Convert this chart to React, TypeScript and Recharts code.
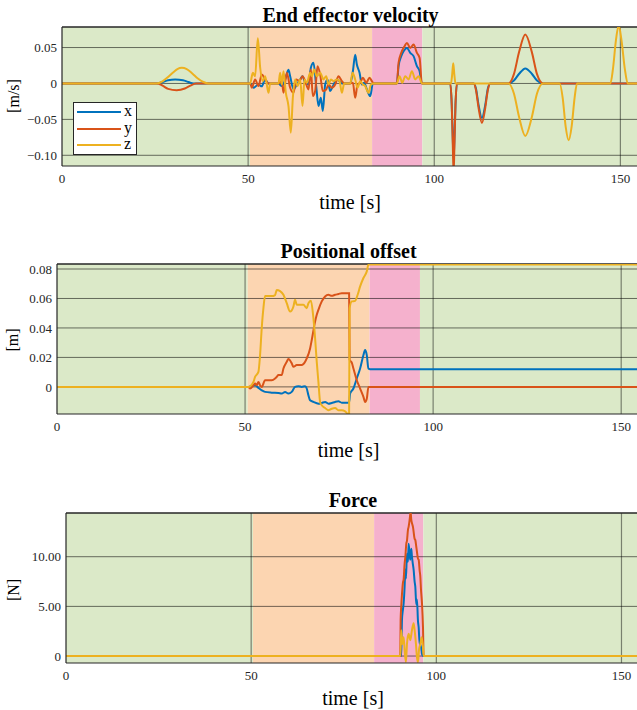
import React from 'react';
import { LineChart, Line, XAxis, YAxis, ReferenceArea, ReferenceLine, Legend } from 'recharts';

const FONT = '"Liberation Serif", "DejaVu Serif", serif';
const BLUE = '#0072BD';
const RED = '#D95319';
const YELLOW = '#EDB120';
const GREEN_BG = '#dbe9c8';
const ORANGE_BG = '#fcd5b1';
const PINK_BG = '#f5b1cd';
const FRAME = '#262626';

const seriesNames = ['x', 'y', 'z'];
const seriesColors = [BLUE, RED, YELLOW];
const phaseColors = [GREEN_BG, ORANGE_BG, PINK_BG, GREEN_BG];

const timeTicks = [0, 50, 100, 150];
const timeDomain = [0, 155];

// ---------- End effector velocity ----------
const velTicks = [-0.1, -0.05, 0, 0.05];
const velDomain = [-0.1149, 0.0786];
const velPhases = [0, 50.5, 83.3, 96.8, 155];

const velX: [number, number][] = [
  [0, 0], [25.5, 0], [27, 0.002], [28.5, 0.0045], [30.4, 0.0055], [32.5, 0.0045], [34, 0.002], [35.3, 0],
  [50.54, 0], [51.43, -0.006], [52.78, -0.0014], [53.67, -0.004], [54.57, 0.0056], [55.47, 0], [58.15, 0],
  [59.05, -0.0037], [59.95, 0.0056], [60.84, 0.019], [61.29, 0.01], [62.19, -0.0083], [63.08, -0.0014],
  [63.98, 0.0056], [64.61, 0.01], [65.32, 0.001], [66.22, -0.0014], [66.85, 0.0218], [67.56, 0.0287],
  [68.28, -0.0037], [68.91, -0.0315], [69.53, -0.0199], [70.07, -0.0384], [70.7, -0.0014], [71.33, 0.0056],
  [72.04, -0.0106], [72.76, -0.0037], [73.84, 0.0056], [74.55, 0.0032], [75.18, 0], [77.42, 0],
  [78.14, 0.017], [78.76, 0.04], [79.21, 0.0264], [79.93, 0.015], [80.56, -0.0014], [81.18, 0.001],
  [81.9, -0.0083], [82.8, -0.0176], [83.51, 0], [89.96, 0], [90.41, 0.0241], [91.13, 0.038], [91.76, 0.0449],
  [92.65, 0.0495], [93.55, 0.0426], [94.44, 0.038], [95.34, 0.0241], [96.06, 0.0171], [96.68, 0],
  [104.3, 0], [104.7, -0.03], [105.0, -0.08], [105.2, -0.105], [105.4, -0.08], [105.7, -0.03], [106.09, 0],
  [110.57, 0], [111.2, -0.007], [111.9, -0.03], [112.81, -0.048], [113.7, -0.03], [114.4, -0.007], [115.05, 0],
  [119.98, 0], [121.4, 0.004], [122.8, 0.0135], [124.46, 0.021], [126.2, 0.0135], [127.6, 0.004], [129.21, 0],
  [155, 0],
];
const velY: [number, number][] = [
  [0, 0], [25.5, 0], [27, -0.003], [28.5, -0.0075], [30.8, -0.0093], [33, -0.007], [34.5, -0.003], [36, 0],
  [50.54, 0], [50.99, -0.006], [51.88, 0.0056], [52.78, -0.0037], [53.67, 0.0125], [54.57, 0.0056], [55.47, 0],
  [58.15, 0], [59.05, 0.0032], [59.5, -0.013], [60.39, 0.0148], [61.29, -0.006], [62.19, -0.013], [62.9, 0.0056],
  [63.8, 0.0032], [64.61, 0.01], [65.32, 0.0032], [66.22, -0.0083], [66.85, 0.0194], [67.38, -0.0176],
  [68.01, -0.0106], [68.64, 0.0241], [69.35, 0.0125], [70.07, -0.0106], [70.97, -0.0083], [71.6, -0.0014],
  [72.49, -0.006], [73.39, -0.0014], [74.28, 0.01], [75.18, 0.0032], [75.81, 0], [77.42, 0], [78.14, 0.0009],
  [78.76, -0.0199], [79.39, -0.0014], [80.11, 0.001], [80.82, 0.0079], [81.72, 0.001], [82.62, 0.0079],
  [83.24, 0.0032], [83.69, 0], [89.96, 0], [90.41, 0.0287], [91.13, 0.0426], [92.03, 0.0519], [92.65, 0.0565],
  [93.55, 0.0495], [94.44, 0.0542], [95.34, 0.0426], [96.06, 0.0356], [96.68, 0],
  [104.3, 0], [104.7, -0.03], [105.0, -0.09], [105.2, -0.125], [105.4, -0.09], [105.7, -0.03], [106.09, 0],
  [110.57, 0], [111.2, -0.009], [111.9, -0.034], [112.81, -0.055], [113.7, -0.034], [114.4, -0.009], [115.05, 0],
  [119.98, 0], [121.4, 0.013], [122.8, 0.044], [124.46, 0.068], [126.2, 0.044], [127.6, 0.013], [129.21, 0],
  [155, 0],
];
const velZ: [number, number][] = [
  [0, 0], [25.4, 0], [27, 0.003], [28.5, 0.009], [30, 0.016], [31, 0.02], [32.2, 0.0217], [33.5, 0.02],
  [35, 0.014], [36.5, 0.007], [38, 0.002], [39.3, 0],
  [50.54, 0], [51.26, 0.0148], [51.88, 0.01], [52.6, 0.063], [53.23, 0.0222], [53.94, 0.0032], [54.57, 0.01],
  [55.47, -0.013], [55.91, 0], [58.15, 0], [58.6, 0.0148], [59.05, -0.0014], [59.5, 0.0171], [60.13, -0.013],
  [60.84, -0.0315], [61.47, -0.0685], [62.01, -0.0199], [62.63, 0.0056], [63.26, -0.0037], [63.98, 0.0056],
  [64.61, -0.0315], [65.14, 0.0056], [65.77, 0.001], [66.67, 0.0148], [67.11, 0.01], [67.74, 0.0194],
  [68.46, 0.01], [69.35, 0.0148], [70.25, 0.0056], [70.97, 0.01], [71.6, -0.0014], [72.22, 0.0056],
  [72.94, 0.0032], [73.84, 0.0056], [74.55, 0.0032], [75.18, -0.013], [75.81, 0], [77.42, 0], [78.05, 0.0148],
  [78.76, 0.0056], [79.39, -0.006], [80.11, 0.0032], [80.82, -0.0014], [81.45, -0.0037], [82.35, -0.013],
  [82.97, -0.0014], [83.69, 0], [89.96, 0], [90.68, 0.0102], [91.4, 0.0009], [92.2, 0.0102], [93.1, 0.0056],
  [94.0, 0.0171], [94.89, 0.0056], [95.79, 0.0102], [96.68, 0],
  [104.5, 0], [104.8, 0.012], [105.1, 0.028], [105.4, 0.012], [105.7, 0],
  [119.98, 0], [121.4, -0.014], [122.8, -0.047], [124.46, -0.073], [126.2, -0.047], [127.6, -0.014], [129.21, 0],
  [133.69, 0], [134.5, -0.02], [135.3, -0.06], [136.11, -0.079], [136.9, -0.06], [137.7, -0.02], [138.35, 0],
  [147.31, 0], [148.0, 0.02], [148.8, 0.06], [149.55, 0.081], [150.3, 0.06], [151.2, 0.02], [151.97, 0],
  [155, 0],
];

// ---------- Positional offset ----------
const posTicks = [0, 0.02, 0.04, 0.06, 0.08];
const posDomain = [-0.0184, 0.0834];
const posPhases = [0, 50.7, 83.1, 96.5, 155];

const posX: [number, number][] = [
  [0, 0], [50.89, 0], [51.77, 0.0007], [52.66, 0.0011], [53.55, -0.0007], [54.43, -0.0023], [55.32, -0.0034],
  [57.09, -0.0039], [58.87, -0.0041], [59.75, -0.0045], [60.64, -0.0034], [61.52, -0.0045], [62.41, -0.0034],
  [63.3, 0], [64.18, 0.0005], [65.07, 0], [65.96, 0.0005], [66.4, -0.0011], [66.84, -0.0057], [67.29, -0.0091],
  [68.17, -0.0102], [69.5, -0.0114], [70.39, -0.0109], [71.28, -0.0102], [72.16, -0.0114], [73.05, -0.0109],
  [73.94, -0.0102], [74.82, -0.0098], [75.71, -0.0107], [76.6, -0.0107], [77.66, -0.0107], [77.93, -0.0045],
  [78.81, -0.0011], [79.7, 0.0057], [80.59, 0.0125], [81.47, 0.0216], [81.91, 0.025], [82.36, 0.0216],
  [82.8, 0.0125], [83.24, 0.012], [155, 0.012],
];
const posY: [number, number][] = [
  [0, 0], [50.89, 0], [51.33, -0.0011], [52.22, 0.0011], [52.66, 0.0023], [53.1, 0.0011], [53.55, 0.0034],
  [53.99, 0.0011], [54.43, 0], [55.32, 0.0045], [57.09, 0.0045], [57.98, 0.0057], [58.42, 0.0068],
  [58.87, 0.008], [59.75, 0.008], [60.2, 0.0125], [61.08, 0.017], [61.52, 0.019], [62.41, 0.016],
  [62.85, 0.0136], [63.74, 0.0148], [65.07, 0.0148], [65.96, 0.017], [66.4, 0.0193], [67.29, 0.0261],
  [67.73, 0.0318], [68.62, 0.0443], [69.06, 0.0489], [69.5, 0.0523], [70.39, 0.058], [71.28, 0.0614],
  [72.16, 0.0625], [73.05, 0.0618], [73.94, 0.0625], [74.82, 0.063], [75.71, 0.0636], [76.6, 0.0636],
  [77.66, 0.0636], [77.8, 0.0184], [78.37, 0.0164], [78.81, 0.0125], [79.7, 0.0045], [80.59, -0.0011],
  [81.47, -0.0068], [81.91, -0.0102], [82.36, -0.008], [82.8, 0], [155, 0],
];
const posZ: [number, number][] = [
  [0, 0], [50.89, 0], [52.22, 0.0034], [52.66, 0.0068], [53.55, 0.0102], [53.99, 0.0216], [54.43, 0.0398],
  [54.88, 0.0534], [55.32, 0.0616], [56.21, 0.0616], [57.09, 0.0616], [57.98, 0.0623], [58.42, 0.0657],
  [59.31, 0.065], [60.2, 0.0625], [61.08, 0.0568], [61.97, 0.0511], [62.85, 0.0545], [63.3, 0.0591],
  [63.74, 0.0557], [64.62, 0.0557], [65.51, 0.0557], [66.4, 0.0534], [66.84, 0.0568], [67.51, 0.0584],
  [68.17, 0.0466], [68.62, 0.033], [69.06, 0.017], [69.5, 0.0034], [69.95, -0.0102], [70.39, -0.0125],
  [71.28, -0.0143], [72.16, -0.0159], [73.05, -0.0148], [73.94, -0.0143], [74.82, -0.0159], [75.71, -0.0159],
  [76.6, -0.0166], [77.3, -0.0182], [77.66, -0.0182], [77.8, 0.0534], [78.37, 0.058], [79.26, 0.0584],
  [79.93, 0.0625], [80.59, 0.0682], [81.47, 0.0739], [82.36, 0.0784], [82.8, 0.083], [155, 0.083],
];

// ---------- Force ----------
const forceTicks = [0, 5, 10];
const forceDomain = [-0.7, 14.4];
const forcePhases = [0, 50.5, 83.2, 96.5, 155];

const forceX: [number, number][] = [
  [0, 0], [90.54, 0], [90.72, 3.6], [90.99, 4.7], [91.17, 5.3], [91.44, 7.0], [91.62, 8.7], [91.8, 7.8],
  [92.07, 10.3], [92.34, 9.5], [92.52, 11.3], [92.79, 10.2], [92.97, 9.7], [93.24, 10.8], [93.42, 10.0],
  [93.69, 9.2], [93.87, 8.7], [94.14, 7.5], [94.32, 7.0], [94.59, 5.2], [94.77, 5.7], [95.05, 3.5],
  [95.23, 2.9], [95.5, 1.2], [95.68, 1.2], [96.04, 0.5], [96.13, 0.2], [96.4, 0], [155, 0],
];
const forceY: [number, number][] = [
  [0, 0], [90.27, 0], [90.36, 3.6], [90.54, 5.1], [90.72, 6.2], [90.99, 7.4], [91.17, 7.7], [91.44, 9.3],
  [91.62, 9.9], [91.89, 11.3], [92.07, 11.6], [92.34, 12.7], [92.52, 13.0], [92.79, 13.7], [93.06, 14.5],
  [93.24, 13.7], [93.42, 13.4], [93.69, 13.0], [94.14, 11.8], [94.32, 11.7], [94.59, 11.0], [94.77, 10.5],
  [95.05, 9.8], [95.23, 9.7], [95.5, 8.6], [95.68, 8.0], [95.86, 6.7], [96.13, 5.3], [96.4, 2.9], [96.58, 0],
  [155, 0],
];
const forceZ: [number, number][] = [
  [0, 0], [90.27, 0], [90.54, 2.6], [90.81, 1.2], [91.17, 1.9], [91.44, 0.6], [91.8, -0.6], [92.07, 1.2],
  [92.52, 2.25], [92.97, 1.6], [93.42, 2.6], [93.87, 3.3], [94.14, 2.6], [94.5, 1.2], [94.77, -0.1],
  [95.05, -0.6], [95.32, 0.6], [95.68, 1.2], [96.04, 1.9], [96.4, 0.9], [96.58, 0], [155, 0],
];

const toPts = (arr: [number, number][]) => arr.map(([t, v]) => ({ t, v }));

const fmtVel = (v: number) => (Math.abs(v) < 1e-9 ? '0' : (v < 0 ? '\u2212' : '') + Math.abs(v).toFixed(2));
const fmtPos = (v: number) => (Math.abs(v) < 1e-9 ? '0' : v.toFixed(2));
const fmtForce = (v: number) => (Math.abs(v) < 1e-9 ? '0' : v.toFixed(2));

const renderLegend = (props: any) => {
  const payload = props.payload || [];
  return (
    <div
      style={{
        width: 64,
        height: 53,
        background: '#fff',
        border: `1px solid ${FRAME}`,
        boxSizing: 'border-box',
        paddingTop: 1,
        fontFamily: FONT,
        fontSize: 16,
        color: '#000',
      }}
    >
      {payload.map((p: any) => (
        <div key={p.value} style={{ display: 'flex', alignItems: 'center', height: 16.5 }}>
          <svg width={50} height={6} style={{ display: 'block' }}>
            <line x1={3} y1={3} x2={47} y2={3} stroke={p.color} strokeWidth={2.2} />
          </svg>
          <span style={{ lineHeight: '16px', marginTop: -2 }}>{p.value}</span>
        </div>
      ))}
    </div>
  );
};

type PanelProps = {
  top: number;
  height: number;
  margin: { top: number; right: number; bottom: number; left: number };
  yWidth: number;
  xHeight: number;
  yDomain: number[];
  yTicks: number[];
  yFmt: (v: number) => string;
  phases: number[];
  data: [number, number][][];
  legend?: boolean;
};

const Panel = ({ top, height, margin, yWidth, xHeight, yDomain, yTicks, yFmt, phases, data, legend }: PanelProps) => (
  <div style={{ position: 'absolute', left: 0, top }}>
    <LineChart width={660} height={height} margin={margin}>
      <XAxis
        type="number"
        dataKey="t"
        domain={timeDomain}
        ticks={timeTicks}
        allowDataOverflow
        height={xHeight}
        tickLine={false}
        tickSize={6}
        tickMargin={2}
        axisLine={{ stroke: FRAME, strokeWidth: 1.2 }}
        tick={{ fontFamily: FONT, fontSize: 13, fill: '#262626' }}
      />
      <YAxis
        type="number"
        dataKey="v"
        domain={yDomain}
        ticks={yTicks}
        allowDataOverflow
        width={yWidth}
        tickLine={false}
        tickSize={3}
        tickMargin={2}
        tickFormatter={yFmt}
        axisLine={{ stroke: FRAME, strokeWidth: 1.2 }}
        tick={{ fontFamily: FONT, fontSize: 13, fill: '#262626' }}
      />
      {phaseColors.map((c, i) => (
        <ReferenceArea
          key={'ph' + i}
          x1={phases[i]}
          x2={phases[i + 1]}
          fill={c}
          fillOpacity={1}
          stroke="none"
          ifOverflow="hidden"
        />
      ))}
      {yTicks.map((y) => (
        <ReferenceLine key={'gy' + y} y={y} stroke="#000" strokeOpacity={0.55} strokeWidth={1} />
      ))}
      {timeTicks.filter((x) => x > 0).map((x) => (
        <ReferenceLine key={'gx' + x} x={x} stroke="#000" strokeOpacity={0.45} strokeWidth={1.2} />
      ))}
      <ReferenceLine y={yDomain[1]} stroke={FRAME} strokeWidth={1.5} />
      {data.map((d, i) => (
        <Line
          key={seriesNames[i]}
          name={seriesNames[i]}
          data={toPts(d)}
          dataKey="v"
          type="monotone"
          stroke={seriesColors[i]}
          strokeWidth={2}
          dot={false}
          activeDot={false}
          isAnimationActive={false}
        />
      ))}
      {legend && (
        <Legend
          layout="horizontal"
          verticalAlign="middle"
          align="center"
          content={renderLegend}
          wrapperStyle={{ left: 73, top: 102 - top, width: 64, height: 53 }}
        />
      )}
    </LineChart>
  </div>
);

const textBase: React.CSSProperties = {
  position: 'absolute',
  fontFamily: FONT,
  color: '#000',
  whiteSpace: 'nowrap',
  lineHeight: 1,
  transform: 'translate(-50%, -50%)',
};

const Title = ({ x, y, children }: { x: number; y: number; children: React.ReactNode }) => (
  <div style={{ ...textBase, left: x, top: y, fontSize: 20, fontWeight: 'bold' }}>{children}</div>
);
const XLabel = ({ x, y }: { x: number; y: number }) => (
  <div style={{ ...textBase, left: x, top: y, fontSize: 20 }}>time [s]</div>
);
const YLabel = ({ x, y, children }: { x: number; y: number; children: React.ReactNode }) => (
  <div style={{ ...textBase, left: x, top: y, fontSize: 16, transform: 'translate(-50%, -50%) rotate(-90deg)' }}>
    {children}
  </div>
);

export default function App() {
  return (
    <div
      style={{
        position: 'absolute',
        left: 0,
        top: 0,
        width: 637,
        height: 710,
        overflow: 'hidden',
        background: '#fff',
      }}
    >
      <Panel
        top={0}
        height={215}
        margin={{ top: 27, right: 21, bottom: 0, left: 0 }}
        yWidth={62}
        xHeight={49}
        yDomain={velDomain}
        yTicks={velTicks}
        yFmt={fmtVel}
        phases={velPhases}
        data={[velX, velY, velZ]}
        legend
      />
      <Panel
        top={240}
        height={220}
        margin={{ top: 24, right: 20, bottom: 0, left: 0 }}
        yWidth={57}
        xHeight={46}
        yDomain={posDomain}
        yTicks={posTicks}
        yFmt={fmtPos}
        phases={posPhases}
        data={[posX, posY, posZ]}
      />
      <Panel
        top={490}
        height={220}
        margin={{ top: 23, right: 20, bottom: 0, left: 0 }}
        yWidth={66}
        xHeight={47}
        yDomain={forceDomain}
        yTicks={forceTicks}
        yFmt={fmtForce}
        phases={forcePhases}
        data={[forceX, forceY, forceZ]}
      />
      <Title x={350.5} y={15}>End effector velocity</Title>
      <Title x={348.5} y={250.5}>Positional offset</Title>
      <Title x={353} y={500}>Force</Title>
      <XLabel x={350} y={202} />
      <XLabel x={348.5} y={450} />
      <XLabel x={353} y={698} />
      <YLabel x={14} y={96}>[m/s]</YLabel>
      <YLabel x={13} y={340}>[m]</YLabel>
      <YLabel x={14} y={590}>[N]</YLabel>
    </div>
  );
}
